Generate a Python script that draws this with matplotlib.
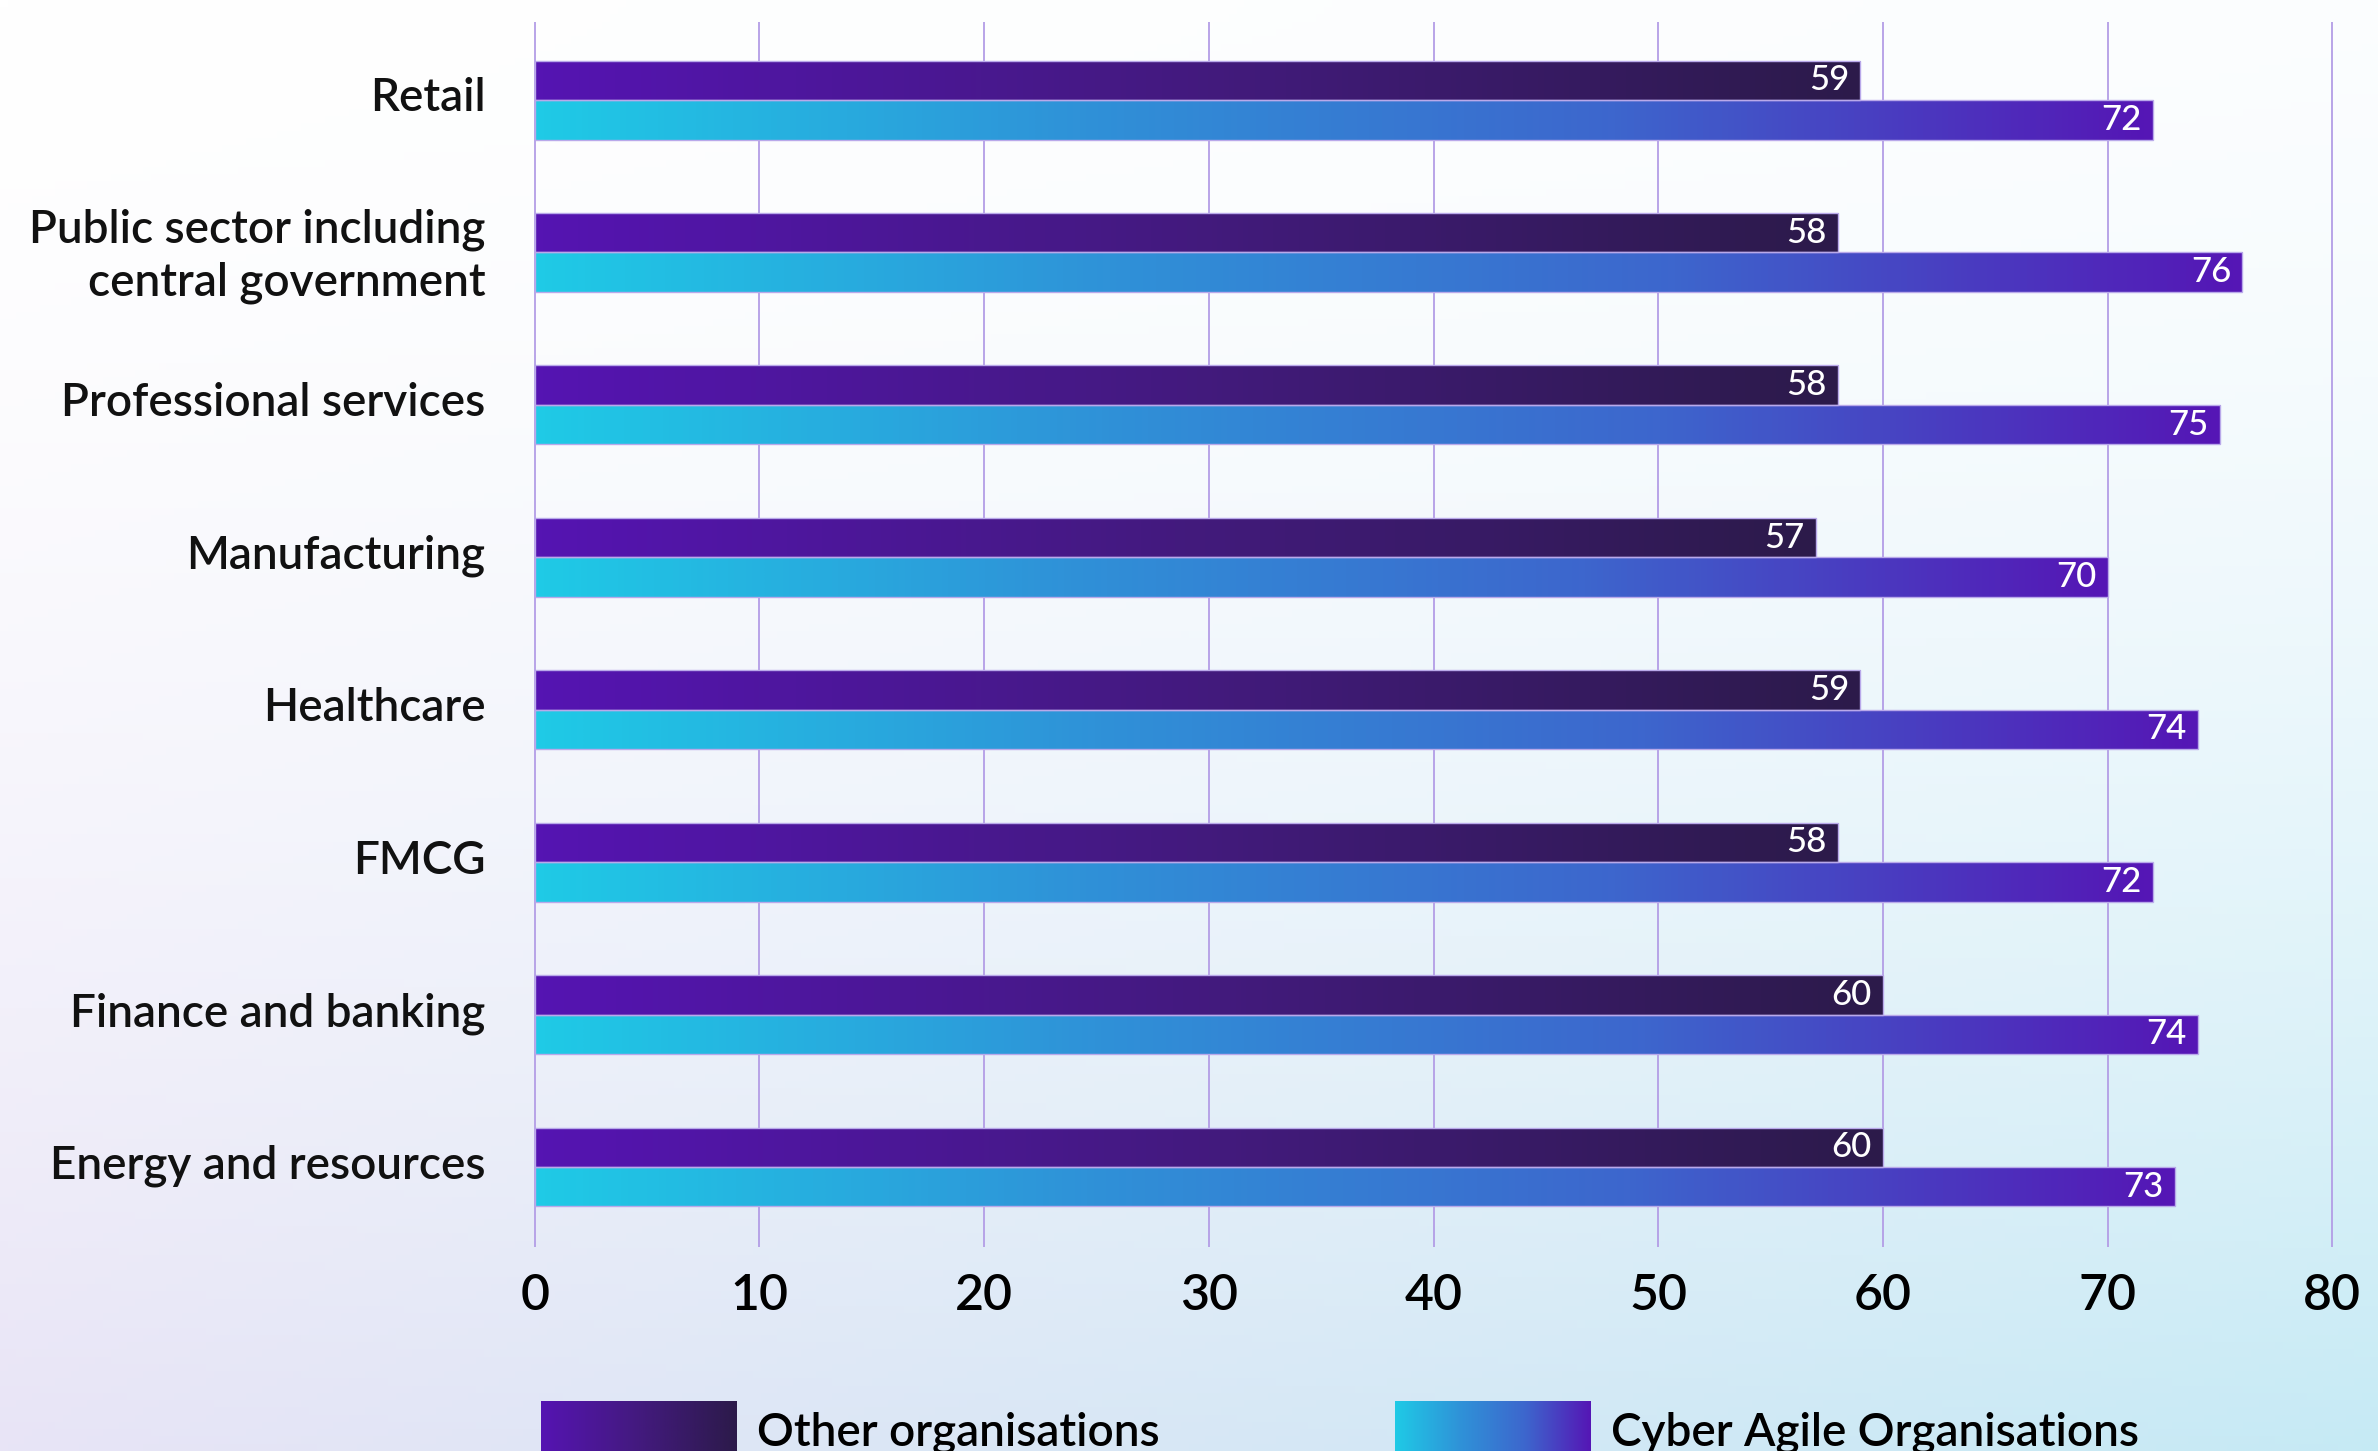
import numpy as np
import matplotlib.pyplot as plt
from matplotlib.colors import LinearSegmentedColormap

categories = ["Retail", "Public sector including\ncentral government", "Professional services",
              "Manufacturing", "Healthcare", "FMCG", "Finance and banking", "Energy and resources"]
other = [59, 58, 58, 57, 59, 58, 60, 60]
cyber = [72, 76, 75, 70, 74, 72, 74, 73]
xticks = [0, 10, 20, 30, 40, 50, 60, 70, 80]
legend_labels = ["Other organisations", "Cyber Agile Organisations"]

plt.rcParams['font.family'] = ['Lato', 'DejaVu Sans']
plt.rcParams['font.weight'] = 'semibold'

other_cmap = LinearSegmentedColormap.from_list("other", ["#5514b2", "#431a7e", "#2c1a4a"])
cyber_cmap = LinearSegmentedColormap.from_list("cyber", ["#1fcae6", "#2f92d8", "#3d66cd", "#5516b5"])
grad = np.linspace(0, 1, 256).reshape(1, -1)

W, H = 2378, 1451
fig = plt.figure(figsize=(W / 100, H / 100), dpi=100)

# background gradient
bg = fig.add_axes([0, 0, 1, 1], zorder=-10)
yy, xx = np.mgrid[0:1:200j, 0:1:300j]
TL = np.array([1.0, 1.0, 1.0])
TR = np.array([0.985, 0.993, 0.998])
BL = np.array([0.91, 0.895, 0.965])
BR = np.array([0.776, 0.918, 0.96])
t = (yy ** 1.6)[..., None]
top = TL * (1 - xx[..., None]) + TR * xx[..., None]
bot = BL * (1 - xx[..., None]) + BR * xx[..., None]
bg.imshow(top * (1 - t) + bot * t, aspect='auto', extent=(0, 1, 0, 1), origin='upper')
bg.axis('off')

ax = fig.add_axes([534 / W, 1 - 1247 / H, (2333 - 534) / W, (1247 - 22) / H])
ax.patch.set_alpha(0)

y = np.arange(len(categories))
h = 0.259
b1 = ax.barh(y - h / 2, other, height=h, color='none', edgecolor='#b9a9ea', lw=1, zorder=4)
b2 = ax.barh(y + h / 2, cyber, height=h, color='none', edgecolor='#b9a9ea', lw=1, zorder=4)

for bars, vals, cmap in [(b1, other, other_cmap), (b2, cyber, cyber_cmap)]:
    for bar, v in zip(bars, vals):
        y0 = bar.get_y()
        im = ax.imshow(grad, cmap=cmap, extent=(0, v, y0 + bar.get_height(), y0),
                       aspect='auto', zorder=3, interpolation='bilinear')
        im.set_clip_path(bar)
        ax.annotate(str(v), (v, y0 + bar.get_height() / 2), xytext=(-8, 0),
                    textcoords='offset points', ha='right', va='center',
                    color='white', fontsize=25, fontweight='medium', zorder=5)

ax.set_xlim(-0.03, 80.03)
ax.set_ylim(7.525, -0.512)
ax.set_xticks(xticks)
ax.set_yticks(y, labels=[])
# category labels sit a touch above the bar-pair centre
for yi, cat in zip(y, categories):
    ax.annotate(cat, (0, yi), xycoords=('axes fraction', 'data'), xytext=(-35, 4),
                textcoords='offset points', ha='right', va='center_baseline',
                multialignment='right', linespacing=1.3, fontsize=33, color='#111111')
ax.grid(axis='x', color='#b39de6', lw=1.3)
ax.grid(axis='y', visible=False)
ax.set_axisbelow(True)
for s in ax.spines.values():
    s.set_visible(False)
ax.tick_params(axis='x', length=0, labelsize=36, pad=19)
ax.tick_params(axis='y', length=0)

# legend
for x0, cmap, label in [(541, other_cmap, legend_labels[0]), (1395, cyber_cmap, legend_labels[1])]:
    lax = fig.add_axes([x0 / W, 0, 196 / W, (1451 - 1401) / H])
    lax.imshow(grad, cmap=cmap, aspect='auto', extent=(0, 1, 0, 1))
    lax.axis('off')
    fig.text((x0 + 216) / W, 1 - 1445 / H, label, va='baseline', ha='left', fontsize=33)

fig.savefig("out.png", dpi=100)
